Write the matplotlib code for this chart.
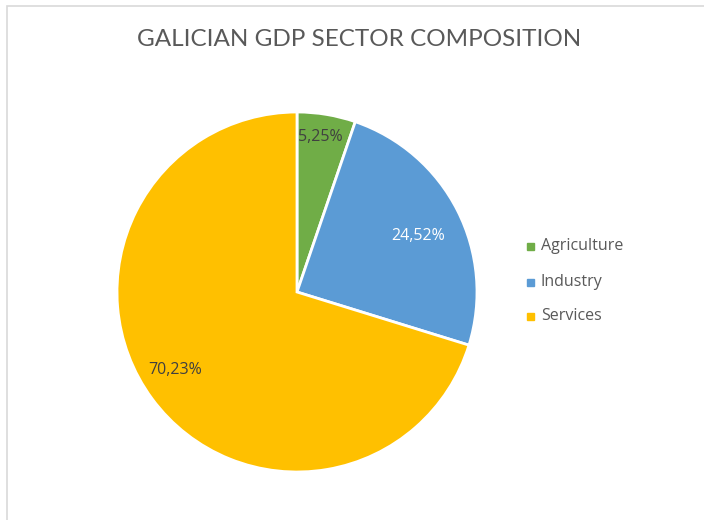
import matplotlib.pyplot as plt
from matplotlib.patches import Rectangle

sectors = ['Agriculture', 'Industry', 'Services']
shares = [5.25, 24.52, 70.23]
colors = ['#70AD47', '#5B9BD5', '#FFC000']
label_colors = ['#404040', '#FFFFFF', '#404040']

W, H = 704, 520
fig = plt.figure(figsize=(W / 100, H / 100), dpi=100)
ax = fig.add_axes([0, 0, 1, 1])

# chart frame
ax.add_patch(Rectangle((6.5, -10), W + 20, H - 5.5 + 10, fill=False,
                       edgecolor='#D9D9D9', linewidth=1.2))

cx, cy, r = 297, H - 292, 180
ax.pie(shares, colors=colors, startangle=90, counterclock=False,
       center=(cx, cy), radius=r, frame=True,
       wedgeprops=dict(edgecolor='white', linewidth=2))
ax.set_xlim(0, W)
ax.set_ylim(0, H)
ax.set_aspect('equal')
ax.axis('off')

# value labels
label_pos = [(320, 137), (418, 236), (175, 370)]
for val, (x, y), c in zip(shares, label_pos, label_colors):
    ax.text(x, H - y, f'{val:.2f}%'.replace('.', ','), ha='center', va='center',
            fontsize=11.5, color=c, family='Open Sans')

ax.text(359, H - 39, 'GALICIAN GDP SECTOR COMPOSITION', ha='center', va='center',
        fontsize=17.5, color='#595959', family='Lato')

# legend
legend_y = [246, 282, 316]
for name, c, y in zip(sectors, colors, legend_y):
    ax.add_patch(Rectangle((527, H - y - 3.5), 7, 7, color=c))
    ax.text(541, H - y, name, ha='left', va='center', fontsize=11.5,
            color='#595959', family='Open Sans')

fig.savefig('out.png', dpi=100)
